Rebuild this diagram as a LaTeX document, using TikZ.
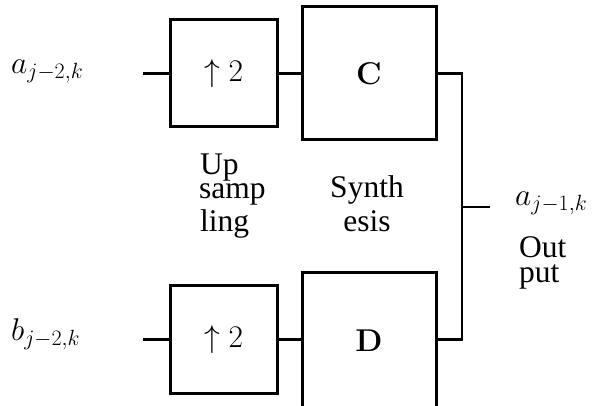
\documentclass[tikz,border=0pt]{standalone}
\usepackage{fix-cm}
\usepackage[no-math]{fontspec}
\setmainfont{Liberation Serif}
\begin{document}
\begin{tikzpicture}[x=1pt,y=-1pt,
  every node/.style={font=\fontsize{31.5}{36}\selectfont, inner sep=0pt},
  blk/.style={draw, line width=3pt, minimum width=107pt, minimum height=107pt},
  bigblk/.style={draw, line width=3pt, minimum width=134pt, minimum height=133pt},
  wire/.style={line width=2.5pt},
  lbl/.style={anchor=base west}]
\useasboundingbox (0,0) rectangle (592,406);
% blocks
\node[blk] (up1) at (223.5,73.5) {$\uparrow 2$};
\node[blk] (up2) at (223.5,339.5) {$\uparrow 2$};
\node[bigblk] (C) at (369,73.5) {$\mathbf{C}$};
\node[bigblk, minimum height=136pt] (D) at (369,341) {$\mathbf{D}$};
% coordinates
\coordinate (in1) at (143,73.5);
\coordinate (in2) at (143,339.5);
\coordinate (bus) at (462,207);
\coordinate (out) at (490,207);
% wires
\draw[wire] (in1) -- (up1.west);
\draw[wire] (up1.east) -- (C.west);
\draw[wire] (in2) -- (up2.west);
\draw[wire] (up2.east) -- (D.west |- up2.east);
\draw[wire] (C.east) -| (bus) |- (D.east |- up2.east);
\draw[wire] (bus) -- (out);
% labels
\node[lbl] (la) at (11,74) {$a_{j-2,k}$};
\node[lbl] (lb) at (11,341) {$b_{j-2,k}$};
\node[lbl] (lo) at (515,206) {$a_{j-1,k}$};
\node[lbl] (u1) at (200,175) {Up};
\node[lbl] (u2) at (199,199) {samp};
\node[lbl] (u3) at (200,232) {ling};
\node[anchor=base] (s1) at (367,198) {Synth};
\node[anchor=base] (s2) at (367,232) {esis};
\node[lbl] (o1) at (519,258) {Out};
\node[lbl] (o2) at (519,283) {put};
\end{tikzpicture}
\end{document}
